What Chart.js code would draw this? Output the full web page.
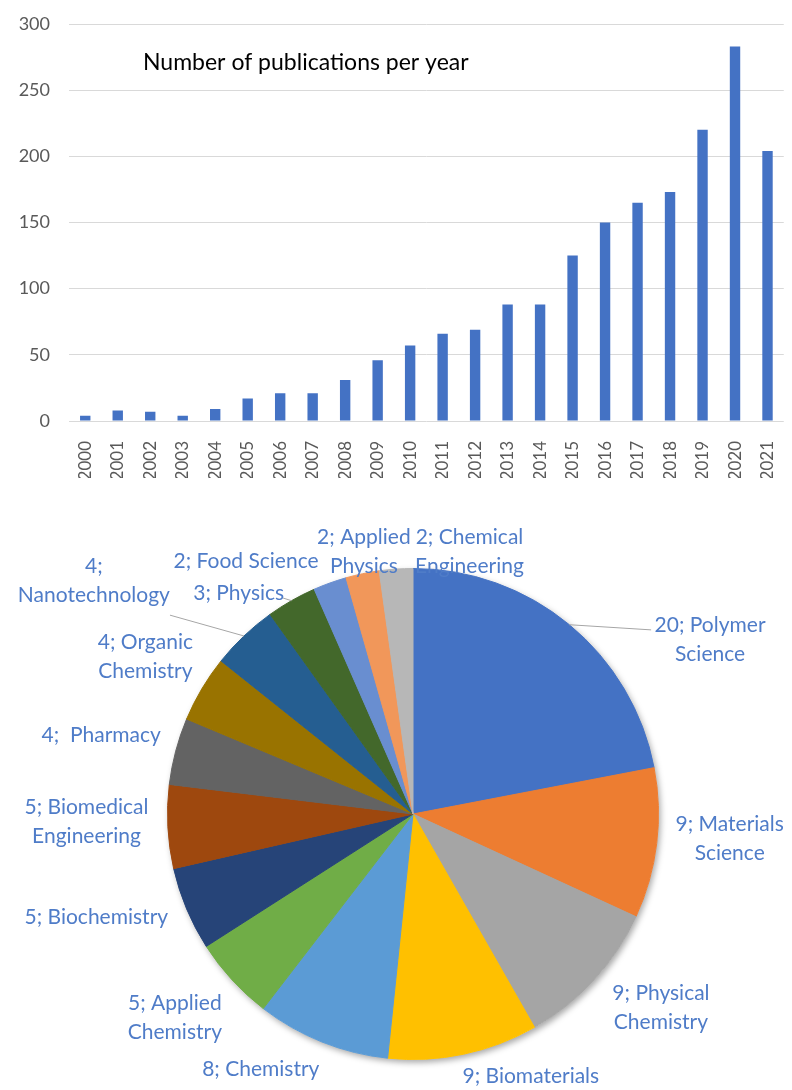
<!DOCTYPE html>
<html>
<head>
<meta charset="utf-8">
<script src="https://cdn.jsdelivr.net/npm/chart.js@4"></script>
<style>
    html, body { margin: 0; padding: 0; background: #fff; overflow: hidden; }
    #page { position: relative; width: 792px; height: 1090px; overflow: hidden; }
    #barBox { position: absolute; left: 0; top: 0; width: 800px; height: 478px; }
    #pieBox { position: absolute; left: 0; top: 480px; width: 792px; height: 610px; }
</style>
</head>
<body>
<div id="page">
    <div id="barBox"><canvas id="barChart"></canvas></div>
    <div id="pieBox"><canvas id="pieChart"></canvas></div>
</div>
<script>
// publications per year
const years = ['2000', '2001', '2002', '2003', '2004', '2005', '2006', '2007', '2008', '2009', '2010',
    '2011', '2012', '2013', '2014', '2015', '2016', '2017', '2018', '2019', '2020', '2021'];
const publications = [4, 8, 7, 4, 9, 17, 21, 21, 31, 46, 57, 66, 69, 88, 88, 125, 150, 165, 173, 220, 283, 204];
const yTicks = [0, 50, 100, 150, 200, 250, 300];

// subject areas (\n = where the label wraps)
const subjects = ['Polymer\nScience', 'Materials\nScience', 'Physical\nChemistry', 'Biomaterials', 'Chemistry',
    'Applied\nChemistry', 'Biochemistry', 'Biomedical\nEngineering', ' Pharmacy', 'Organic\nChemistry',
    '\nNanotechnology', 'Physics', 'Food Science', 'Applied\nPhysics', 'Chemical\nEngineering'];
const subjectCounts = [20, 9, 9, 9, 8, 5, 5, 5, 4, 4, 4, 3, 2, 2, 2];
const sliceColors = ['#4472C4', '#ED7D31', '#A5A5A5', '#FFC000', '#5B9BD5', '#70AD47', '#264478', '#9E480E',
    '#636363', '#997300', '#255E91', '#43682B', '#698ED0', '#F1975A', '#B7B7B7'];

// label centres relative to pie centre, in radii; optional leader end point
const labelSpots = [
    { dx: 1.21, dy: -0.71, lx: 0.97, ly: -0.75 },
    { dx: 1.29, dy: 0.10 },
    { dx: 1.01, dy: 0.79 },
    { dx: 0.48, dy: 1.07 },
    { dx: -0.62, dy: 1.04 },
    { dx: -0.97, dy: 0.83 },
    { dx: -1.29, dy: 0.42 },
    { dx: -1.33, dy: 0.03 },
    { dx: -1.27, dy: -0.32 },
    { dx: -1.09, dy: -0.64 },
    { dx: -1.30, dy: -0.95, lx: -0.99, ly: -0.81 },
    { dx: -0.71, dy: -0.90, lx: -0.53, ly: -0.88 },
    { dx: -0.68, dy: -1.03 },
    { dx: -0.20, dy: -1.07 },
    { dx: 0.23, dy: -1.07 }
];

const FONT = 'Lato, "Liberation Sans", sans-serif';

const barTitle = {
    id: 'barTitle',
    afterDraw(chart) {
        const { ctx, chartArea } = chart;
        ctx.save();
        ctx.font = '23px ' + FONT;
        ctx.fillStyle = '#000';
        ctx.textBaseline = 'middle';
        ctx.fillText('Number of publications per year', chartArea.left + 74, chartArea.top + 39);
        ctx.restore();
    }
};

new Chart(document.getElementById('barChart'), {
    type: 'bar',
    data: {
        labels: years,
        datasets: [{
            data: publications,
            backgroundColor: '#4472C4',
            barPercentage: 0.32,
            categoryPercentage: 1
        }]
    },
    options: {
        responsive: true,
        maintainAspectRatio: false,
        animation: false,
        layout: { padding: { top: 24, right: 4 } },
        plugins: { legend: { display: false }, tooltip: { enabled: false } },
        scales: {
            x: {
                grid: { display: false },
                border: { display: false },
                ticks: {
                    minRotation: 90, maxRotation: 90, padding: 12,
                    color: '#595959', font: { family: FONT, size: 17 }
                },
                afterFit(scale) { scale.height = 57; }
            },
            y: {
                min: 0, max: 300,
                afterBuildTicks(scale) { scale.ticks = yTicks.map(v => ({ value: v })); },
                grid: { color: '#D9D9D9', drawTicks: false },
                border: { display: false },
                ticks: { padding: 19, color: '#595959', font: { family: FONT, size: 18 } },
                afterFit(scale) {
                    scale.width = 69;
                    scale.paddingTop = 0;
                    scale.paddingBottom = 0;
                }
            }
        }
    },
    plugins: [barTitle]
});

const pieShadow = {
    id: 'pieShadow',
    beforeDatasetsDraw(chart) {
        const arc = chart.getDatasetMeta(0).data[0];
        if (!arc) return;
        const { x, y, outerRadius } = arc.getProps(['x', 'y', 'outerRadius'], true);
        const ctx = chart.ctx;
        ctx.save();
        ctx.shadowColor = 'rgba(0,0,0,0.35)';
        ctx.shadowBlur = 6;
        ctx.shadowOffsetX = 2;
        ctx.shadowOffsetY = 3;
        ctx.fillStyle = '#ffffff';
        ctx.beginPath();
        ctx.arc(x, y, outerRadius, 0, Math.PI * 2);
        ctx.fill();
        ctx.restore();
    }
};

const pieLabels = {
    id: 'pieLabels',
    afterDatasetsDraw(chart) {
        const ctx = chart.ctx;
        const arcs = chart.getDatasetMeta(0).data;
        ctx.save();
        ctx.font = '21px ' + FONT;
        ctx.textAlign = 'center';
        ctx.textBaseline = 'middle';
        arcs.forEach((arc, i) => {
            const { x, y, outerRadius, startAngle, endAngle } =
                arc.getProps(['x', 'y', 'outerRadius', 'startAngle', 'endAngle'], true);
            const spot = labelSpots[i];
            if (spot.lx !== undefined) {
                const mid = (startAngle + endAngle) / 2;
                ctx.strokeStyle = '#A6A6A6';
                ctx.lineWidth = 1;
                ctx.beginPath();
                ctx.moveTo(x + Math.cos(mid) * outerRadius, y + Math.sin(mid) * outerRadius);
                ctx.lineTo(x + spot.lx * outerRadius, y + spot.ly * outerRadius);
                ctx.stroke();
            }
            const lines = (subjectCounts[i] + '; ' + subjects[i]).split('\n').map(s => s.trimEnd());
            const cx = x + spot.dx * outerRadius;
            const cy = y + spot.dy * outerRadius;
            const lh = 29;
            ctx.fillStyle = '#4F7CC8';
            lines.forEach((t, k) => {
                ctx.fillText(t, cx, cy + (k - (lines.length - 1) / 2) * lh);
            });
        });
        ctx.restore();
    }
};

new Chart(document.getElementById('pieChart'), {
    type: 'pie',
    data: {
        labels: subjects,
        datasets: [{
            data: subjectCounts,
            backgroundColor: sliceColors,
            borderColor: sliceColors,
            borderWidth: 1
        }]
    },
    options: {
        responsive: true,
        maintainAspectRatio: false,
        animation: false,
        layout: { padding: { left: 167, right: 133, top: 88, bottom: 30 } },
        plugins: { legend: { display: false }, tooltip: { enabled: false } }
    },
    plugins: [pieShadow, pieLabels]
});
</script>
</body>
</html>
